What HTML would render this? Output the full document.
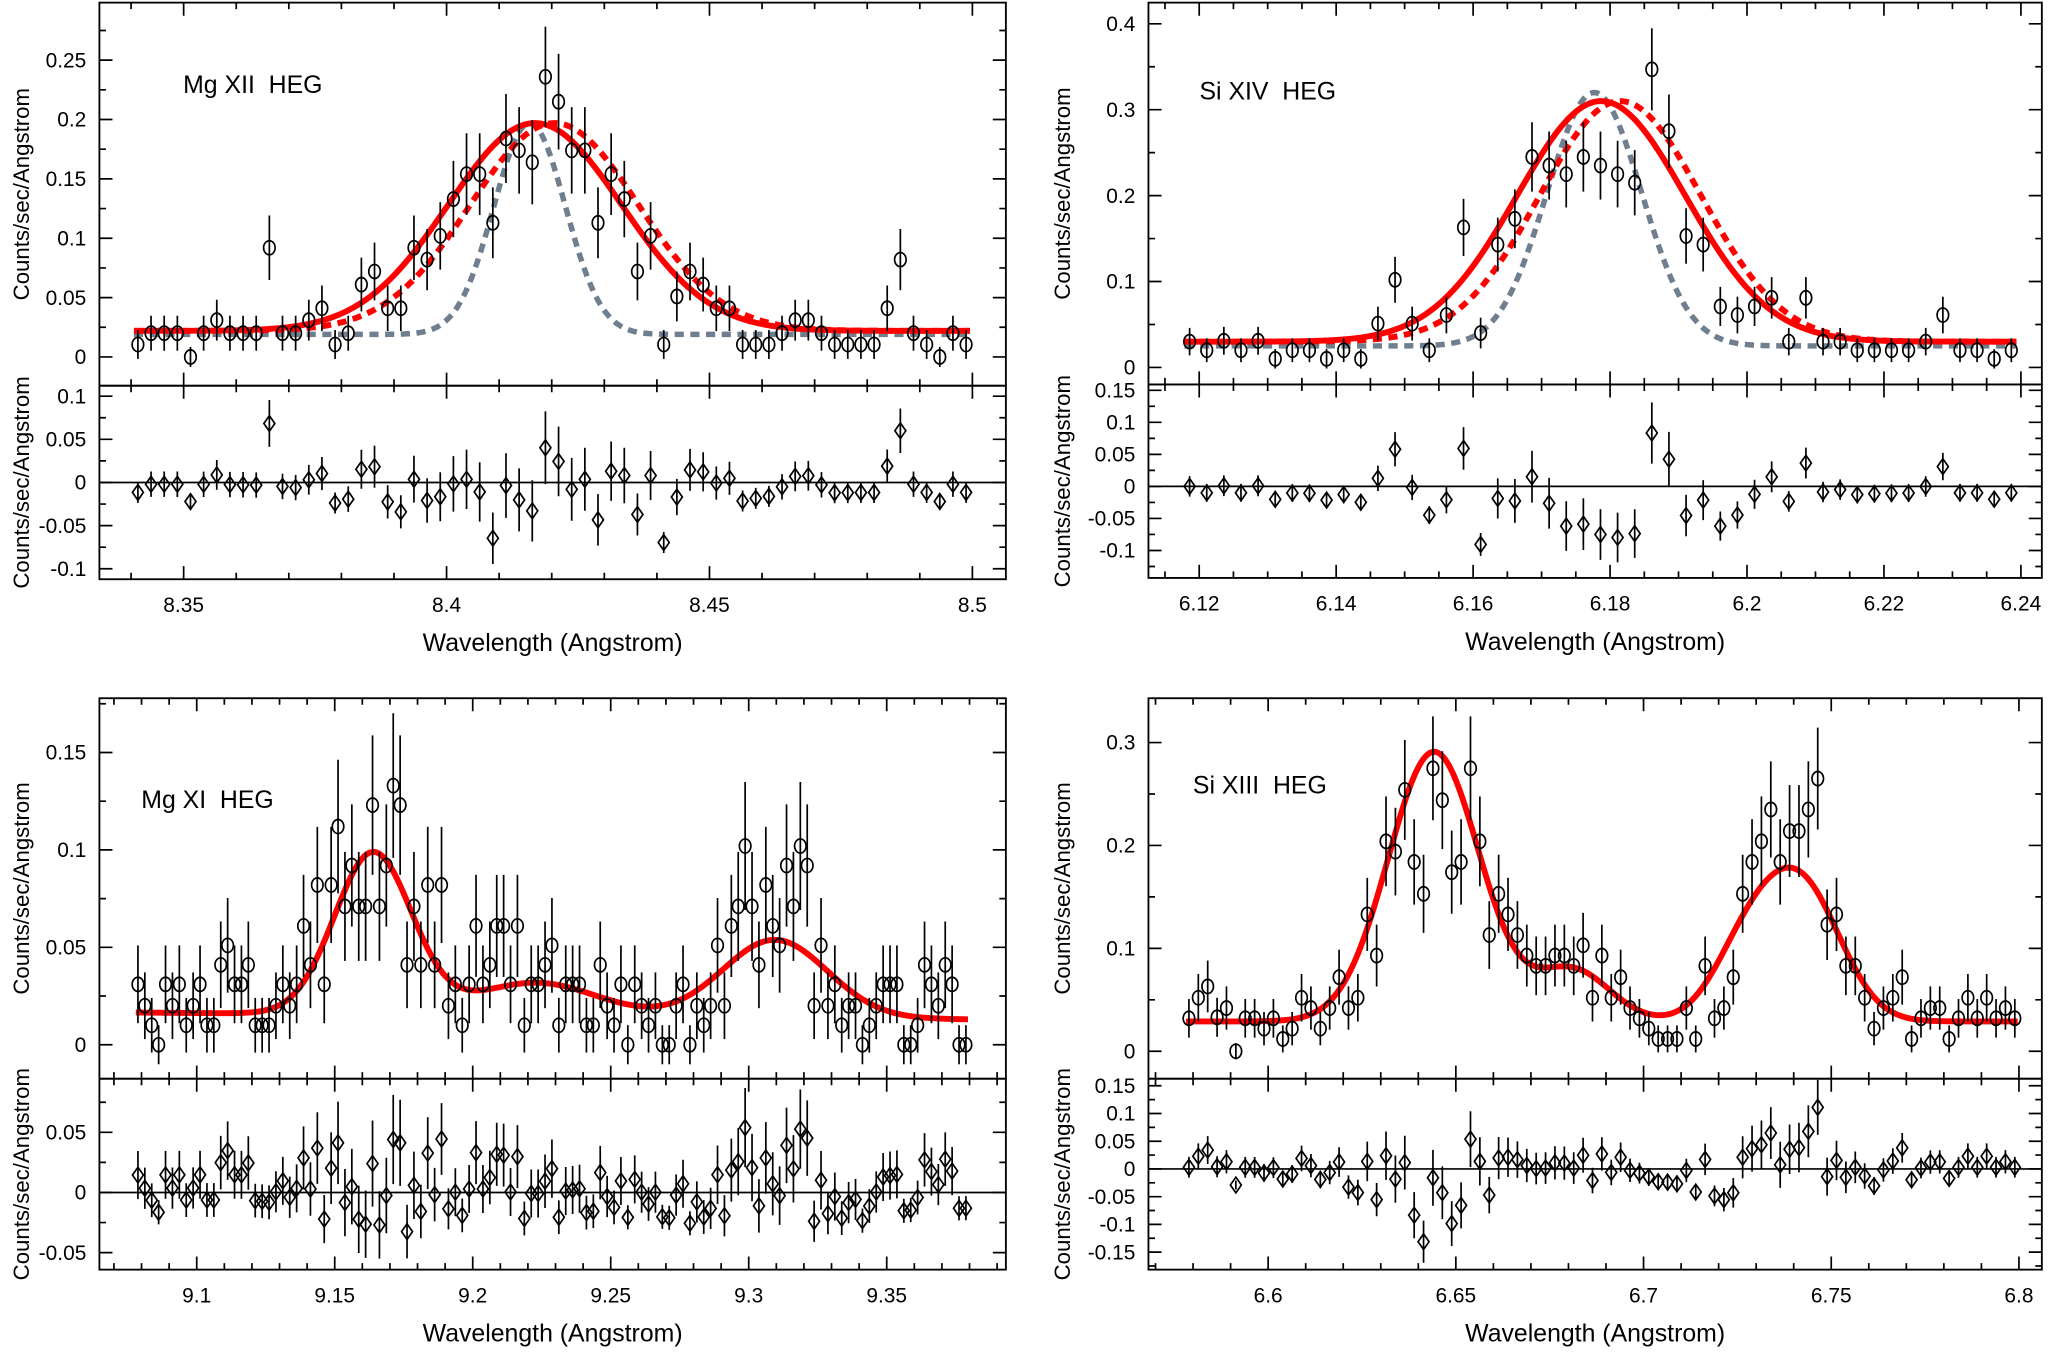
<!DOCTYPE html>
<html><head><meta charset="utf-8"><style>
html,body{margin:0;padding:0;background:#fff;}
svg{display:block;font-family:"Liberation Sans",Arial,sans-serif;}
</style></head><body>
<svg id="fig" width="2051" height="1352" viewBox="0 0 1568 1034" preserveAspectRatio="none" xmlns="http://www.w3.org/2000/svg">
<rect x="0" y="0" width="1568" height="1034" fill="#fff"/>
</svg>
<script>
// ---------- DATA ----------
// Mg XII (top-left)
const tlStart = 8.3413, tlBin = 0.0025;
const tlCounts = [0.0105,0.020,0.020,0.020,0.000,0.020,0.031,0.020,0.020,0.020,0.092,0.020,0.020,0.031,0.041,0.0105,0.020,0.061,0.072,0.041,0.041,0.092,0.082,0.102,0.133,0.154,0.154,0.113,0.184,0.174,0.164,0.236,0.215,0.174,0.174,0.113,0.154,0.133,0.072,0.102,0.0105,0.051,0.072,0.061,0.041,0.041,0.0105,0.0105,0.0105,0.020,0.031,0.031,0.020,0.0105,0.0105,0.0105,0.0105,0.041,0.082,0.020,0.0105,0.000,0.020,0.0105];
const tlFitCont = 0.022, tlFitCenters = [8.4168], tlFitAmps = [0.175], tlFitSigmas = [0.0165];
const tlAltCont = 0.022, tlAltCenters = [8.4205], tlAltAmps = [0.175], tlAltSigmas = [0.016];
const tlNarCont = 0.019, tlNarCenters = [8.4158], tlNarAmps = [0.178], tlNarSigmas = [0.0068];
const tlXTicks = [8.35,8.4,8.45,8.5];
const tlXLabels = ["8.35","8.4","8.45","8.5"];
const tlYTicks = [0,0.05,0.1,0.15,0.2,0.25];
const tlYLabels = ["0","0.05","0.1","0.15","0.2","0.25"];
const tlRTicks = [-0.1,-0.05,0,0.05,0.1];
const tlRLabels = ["-0.1","-0.05","0","0.05","0.1"];

// Si XIV (top-right)
const trStart = 6.1186, trBin = 0.0025;
const trCounts = [0.030,0.020,0.031,0.020,0.031,0.010,0.020,0.020,0.010,0.020,0.010,0.051,0.102,0.051,0.020,0.061,0.163,0.040,0.143,0.173,0.245,0.235,0.225,0.245,0.235,0.225,0.215,0.347,0.275,0.153,0.143,0.071,0.061,0.071,0.081,0.030,0.081,0.030,0.030,0.020,0.020,0.020,0.020,0.030,0.061,0.020,0.020,0.010,0.020];
const trFitCont = 0.03, trFitCenters = [6.1787], trFitAmps = [0.28], trFitSigmas = [0.0123];
const trAltCont = 0.03, trAltCenters = [6.1815], trAltAmps = [0.28], trAltSigmas = [0.0118];
const trNarCont = 0.025, trNarCenters = [6.1777], trNarAmps = [0.295], trNarSigmas = [0.0069];
const trXTicks = [6.12,6.14,6.16,6.18,6.2,6.22,6.24];
const trXLabels = ["6.12","6.14","6.16","6.18","6.2","6.22","6.24"];
const trYTicks = [0,0.1,0.2,0.3,0.4];
const trYLabels = ["0","0.1","0.2","0.3","0.4"];
const trRTicks = [-0.1,-0.05,0,0.05,0.1,0.15];
const trRLabels = ["-0.1","-0.05","0","0.05","0.1","0.15"];

// Mg XI (bottom-left)
const blStart = 9.0787, blBin = 0.0025;
const blCounts = [0.031,0.020,0.010,0.000,0.031,0.020,0.031,0.010,0.020,0.031,0.010,0.010,0.041,0.051,0.031,0.031,0.041,0.010,0.010,0.010,0.020,0.031,0.020,0.031,0.061,0.041,0.082,0.031,0.082,0.112,0.071,0.092,0.071,0.071,0.123,0.071,0.092,0.133,0.123,0.041,0.071,0.041,0.082,0.041,0.082,0.020,0.031,0.010,0.031,0.061,0.031,0.041,0.061,0.061,0.031,0.061,0.010,0.031,0.031,0.041,0.051,0.010,0.031,0.031,0.031,0.010,0.010,0.041,0.020,0.010,0.031,0.000,0.031,0.020,0.010,0.020,0.000,0.000,0.020,0.031,0.000,0.020,0.010,0.020,0.051,0.020,0.061,0.071,0.102,0.071,0.041,0.082,0.061,0.051,0.092,0.071,0.102,0.092,0.020,0.051,0.020,0.031,0.010,0.020,0.020,0.000,0.010,0.020,0.031,0.031,0.031,0.000,0.000,0.010,0.041,0.031,0.020,0.041,0.031,0.000,0.000];
const blFitContL = 0.0165, blFitContR = 0.013;
const blFitCenters = [9.1639,9.223,9.3095], blFitAmps = [0.083,0.017,0.040], blFitSigmas = [0.014,0.022,0.019];
const blXTicks = [9.1,9.15,9.2,9.25,9.3,9.35];
const blXLabels = ["9.1","9.15","9.2","9.25","9.3","9.35"];
const blYTicks = [0,0.05,0.1,0.15];
const blYLabels = ["0","0.05","0.1","0.15"];
const blRTicks = [-0.05,0,0.05];
const blRLabels = ["-0.05","0","0.05"];

// Si XIII (bottom-right)
const brStart = 6.5789, brBin = 0.0025;
const brCounts = [0.032,0.052,0.063,0.033,0.042,0.000,0.032,0.032,0.022,0.032,0.012,0.022,0.052,0.042,0.022,0.042,0.072,0.042,0.052,0.133,0.093,0.204,0.194,0.254,0.184,0.153,0.275,0.244,0.174,0.184,0.275,0.204,0.113,0.153,0.133,0.113,0.093,0.083,0.083,0.093,0.093,0.083,0.103,0.052,0.093,0.052,0.072,0.042,0.032,0.022,0.012,0.012,0.012,0.042,0.012,0.083,0.032,0.042,0.072,0.153,0.184,0.204,0.235,0.184,0.214,0.214,0.235,0.265,0.123,0.133,0.083,0.083,0.052,0.022,0.042,0.052,0.072,0.012,0.032,0.042,0.042,0.012,0.032,0.052,0.032,0.052,0.032,0.042,0.032];
const brFitCont = 0.029;
const brFitCenters = [6.6442,6.681,6.727,6.742], brFitAmps = [0.262,0.05,0.06,0.13], brFitSigmas = [0.0122,0.01,0.009,0.0105];
const brXTicks = [6.6,6.65,6.7,6.75,6.8];
const brXLabels = ["6.6","6.65","6.7","6.75","6.8"];
const brYTicks = [0,0.1,0.2,0.3];
const brYLabels = ["0","0.1","0.2","0.3"];
const brRTicks = [-0.15,-0.1,-0.05,0,0.05,0.1,0.15];
const brRLabels = ["-0.15","-0.1","-0.05","0","0.05","0.1","0.15"];

// ---------- DRAWING ----------
const NS = "http://www.w3.org/2000/svg";
const svg = document.getElementById("fig");
function mk(tag, attrs, parent) {
  const e = document.createElementNS(NS, tag);
  for (const k in attrs) e.setAttribute(k, attrs[k]);
  (parent || svg).appendChild(e);
  return e;
}
function gauss(x, cont, cs, as, ss) {
  let v = cont;
  for (let i = 0; i < cs.length; i++) v += as[i] * Math.exp(-Math.pow(x - cs[i], 2) / (2 * ss[i] * ss[i]));
  return v;
}

function drawPanel(p) {
  const g = mk("g", {});
  
  
  const X = w => p.xa + (w - p.xw) * p.xs;
  const Y = v => p.y0 - v * p.ys;
  const R = v => p.r0 - v * p.rs;
  const n = p.counts.length;
  const wl = i => p.start + i * p.bin;
  const model = p.model;
  const err = v => p.ek * Math.sqrt(Math.max(v, 0) + p.ec);

  // clip
  const cid = "clip-" + p.name;
  const cp = mk("clipPath", {id: cid}, g);
  mk("rect", {x: p.x0, y: p.yTop, width: p.x1 - p.x0, height: p.yDiv - p.yTop}, cp);
  const cid2 = "clipr-" + p.name;
  const cp2 = mk("clipPath", {id: cid2}, g);
  mk("rect", {x: p.x0, y: p.yDiv, width: p.x1 - p.x0, height: p.yBot - p.yDiv}, cp2);

  // model curves
  const xs0 = wl(0) - p.bin * 0.3, xs1 = wl(n - 1) + p.bin * 0.3;
  function curve(fn, attrs, nm) {
    let d = "";
    for (let k = 0; k <= 400; k++) {
      const x = xs0 + (xs1 - xs0) * k / 400;
      d += (k ? "L" : "M") + X(x).toFixed(2) + "," + Y(fn(x)).toFixed(2);
    }
    const c = mk("path", Object.assign({d: d, fill: "none", "clip-path": "url(#" + cid + ")"}, attrs), g);
    
    
  }
  if (p.narrow) curve(p.narrow, {stroke: "#6f7f8f", "stroke-width": 4.2, "stroke-dasharray": "7,5"}, "narrow-model-curve");
  if (p.alt) curve(p.alt, {stroke: "#ff0000", "stroke-width": 4.5, "stroke-dasharray": "7,5"}, "shifted-model-curve");
  curve(model, {stroke: "#ff0000", "stroke-width": 4.5}, "best-fit-model-curve");

  // data points
  for (let i = 0; i < n; i++) {
    const x = X(wl(i)), v = p.counts[i], e = err(v);
    const eb = mk("line", {x1: x, x2: x, y1: Y(v + e), y2: Y(v - e), stroke: "#000", "stroke-width": 1.3}, g);
    
    
    const c = mk("ellipse", {cx: x, cy: Y(v), rx: 4.4, ry: 5.4, fill: "none", stroke: "#000", "stroke-width": 1.3}, g);
    
    
    const r = v - model(wl(i));
    const rb = mk("line", {x1: x, x2: x, y1: R(r + e), y2: R(r - e), stroke: "#000", "stroke-width": 1.3, "clip-path": "url(#" + cid2 + ")"}, g);
    
    
    const ry = R(r);
    const dm = mk("polygon", {points: `${x},${ry-6} ${x+4.2},${ry} ${x},${ry+6} ${x-4.2},${ry}`, fill: "none", stroke: "#000", "stroke-width": 1.3, "clip-path": "url(#" + cid2 + ")"}, g);
    
    
  }
  // zero line in residuals
  const zl = mk("line", {x1: p.x0, x2: p.x1, y1: R(0), y2: R(0), stroke: "#000", "stroke-width": 1.3}, g);
  
  

  // frames
  const f1 = mk("rect", {x: p.x0, y: p.yTop, width: p.x1 - p.x0, height: p.yDiv - p.yTop, fill: "none", stroke: "#000", "stroke-width": 1.4}, g);
  
  
  const f2 = mk("rect", {x: p.x0, y: p.yDiv, width: p.x1 - p.x0, height: p.yBot - p.yDiv, fill: "none", stroke: "#000", "stroke-width": 1.4}, g);
  
  

  // x ticks
  let tk = "";
  const lo = Math.ceil((p.xw - (p.xa - p.x0) / p.xs) / p.xminor - 1e-6);
  for (let k = lo; ; k++) {
    const w = k * p.xminor, x = X(w);
    if (x > p.x1) break;
    if (x < p.x0) continue;
    const major = p.xTicks.some(t => Math.abs(t - w) < 1e-6);
    const L = major ? 10 : 5;
    tk += `M${x},${p.yTop}v${L}M${x},${p.yDiv}v${-L}M${x},${p.yDiv}v${L}M${x},${p.yBot}v${-L}`;
  }
  // y ticks main
  for (let v = p.yMin; v <= p.yMax + 1e-9; v += p.yMinor) {
    const y = Y(v); if (y < p.yTop || y > p.yDiv) continue;
    const major = p.yTicks.some(t => Math.abs(t - v) < 1e-6);
    const L = major ? 10 : 5;
    tk += `M${p.x0},${y}h${L}M${p.x1},${y}h${-L}`;
  }
  for (let v = p.rMin; v <= p.rMax + 1e-9; v += p.rMinor) {
    const y = R(v); if (y < p.yDiv || y > p.yBot) continue;
    const major = p.rTicks.some(t => Math.abs(t - v) < 1e-6);
    const L = major ? 10 : 5;
    tk += `M${p.x0},${y}h${L}M${p.x1},${y}h${-L}`;
  }
  const tp = mk("path", {d: tk, stroke: "#000", "stroke-width": 1.3, fill: "none"}, g);
  
  

  // tick labels
  p.xTicks.forEach((t, i) => {
    const tx = mk("text", {x: X(t), y: p.yBot + 25, "font-size": 16, "text-anchor": "middle"}, g);
    tx.textContent = p.xLabels[i];
    
    
  });
  p.yTicks.forEach((t, i) => {
    const tx = mk("text", {x: p.x0 - 10, y: Y(t) + 5.5, "font-size": 16, "text-anchor": "end"}, g);
    tx.textContent = p.yLabels[i];
    
    
  });
  p.rTicks.forEach((t, i) => {
    const tx = mk("text", {x: p.x0 - 10, y: R(t) + 5.5, "font-size": 16, "text-anchor": "end"}, g);
    tx.textContent = p.rLabels[i];
    
    
  });
  // axis titles
  const xt = mk("text", {x: (p.x0 + p.x1) / 2, y: p.yBot + 55, "font-size": 19, "text-anchor": "middle"}, g);
  xt.textContent = "Wavelength (Angstrom)";
  
  
  const ym = (p.yTop + p.yDiv) / 2, yr = (p.yDiv + p.yBot) / 2;
  const yt = mk("text", {x: p.ytx, y: ym, "font-size": 17, "text-anchor": "middle", transform: `rotate(-90 ${p.ytx} ${ym})`}, g);
  yt.textContent = "Counts/sec/Angstrom";
  
  
  const rt = mk("text", {x: p.ytx, y: yr, "font-size": 17, "text-anchor": "middle", transform: `rotate(-90 ${p.ytx} ${yr})`}, g);
  rt.textContent = "Counts/sec/Angstrom";
  
  
  // panel label
  const pl = mk("text", {x: p.lx, y: p.ly, "font-size": 19}, g);
  pl.textContent = p.label;
  
  
  pl.setAttribute('xml:space', 'preserve');
  pl.style.whiteSpace = "pre";
}

drawPanel({name: "mg-xii-panel", label: "Mg XII  HEG", lx: 140, ly: 71,
  x0: 76, x1: 769, yTop: 2, yDiv: 295, yBot: 443, ytx: 22,
  xa: 140.4, xw: 8.35, xs: 4020, xminor: 0.01,
  y0: 273, ys: 908, r0: 369, rs: 660,
  start: tlStart, bin: tlBin, counts: tlCounts, ek: 0.085, ec: 0.01,
  model: x => gauss(x, tlFitCont, tlFitCenters, tlFitAmps, tlFitSigmas),
  alt: x => gauss(x, tlAltCont, tlAltCenters, tlAltAmps, tlAltSigmas),
  narrow: x => gauss(x, tlNarCont, tlNarCenters, tlNarAmps, tlNarSigmas),
  xTicks: tlXTicks, xLabels: tlXLabels, yTicks: tlYTicks, yLabels: tlYLabels, rTicks: tlRTicks, rLabels: tlRLabels,
  yMin: -0.025, yMax: 0.3, yMinor: 0.025, rMin: -0.15, rMax: 0.15, rMinor: 0.025});

drawPanel({name: "si-xiv-panel", label: "Si XIV  HEG", lx: 917, ly: 76,
  x0: 878, x1: 1561, yTop: 2, yDiv: 294, yBot: 442, ytx: 818,
  xa: 916.8, xw: 6.12, xs: 5235, xminor: 0.005,
  y0: 281, ys: 657, r0: 372, rs: 490,
  start: trStart, bin: trBin, counts: trCounts, ek: 0.08, ec: 0.01,
  model: x => gauss(x, trFitCont, trFitCenters, trFitAmps, trFitSigmas),
  alt: x => gauss(x, trAltCont, trAltCenters, trAltAmps, trAltSigmas),
  narrow: x => gauss(x, trNarCont, trNarCenters, trNarAmps, trNarSigmas),
  xTicks: trXTicks, xLabels: trXLabels, yTicks: trYTicks, yLabels: trYLabels, rTicks: trRTicks, rLabels: trRLabels,
  yMin: -0.05, yMax: 0.45, yMinor: 0.05, rMin: -0.15, rMax: 0.2, rMinor: 0.025});

drawPanel({name: "mg-xi-panel", label: "Mg XI  HEG", lx: 108, ly: 618,
  x0: 76, x1: 769, yTop: 534, yDiv: 825, yBot: 971, ytx: 22,
  xa: 150.4, xw: 9.1, xs: 2110, xminor: 0.01,
  y0: 799, ys: 1490, r0: 912, rs: 920,
  start: blStart, bin: blBin, counts: blCounts, ek: 0.098, ec: 0.0105,
  model: x => gauss(x, blFitContL + (blFitContR - blFitContL) * (x - 9.08) / 0.3, blFitCenters, blFitAmps, blFitSigmas),
  xTicks: blXTicks, xLabels: blXLabels, yTicks: blYTicks, yLabels: blYLabels, rTicks: blRTicks, rLabels: blRLabels,
  yMin: -0.025, yMax: 0.2, yMinor: 0.025, rMin: -0.1, rMax: 0.1, rMinor: 0.025});

drawPanel({name: "si-xiii-panel", label: "Si XIII  HEG", lx: 912, ly: 607,
  x0: 878, x1: 1561, yTop: 534, yDiv: 825, yBot: 971, ytx: 818,
  xa: 969.5, xw: 6.6, xs: 2870, xminor: 0.01,
  y0: 804, ys: 787, r0: 894, rs: 424,
  start: brStart, bin: brBin, counts: brCounts, ek: 0.095, ec: 0.007,
  model: x => gauss(x, brFitCont, brFitCenters, brFitAmps, brFitSigmas),
  xTicks: brXTicks, xLabels: brXLabels, yTicks: brYTicks, yLabels: brYLabels, rTicks: brRTicks, rLabels: brRLabels,
  yMin: -0.05, yMax: 0.4, yMinor: 0.05, rMin: -0.2, rMax: 0.2, rMinor: 0.025});
</script>
</body></html>
